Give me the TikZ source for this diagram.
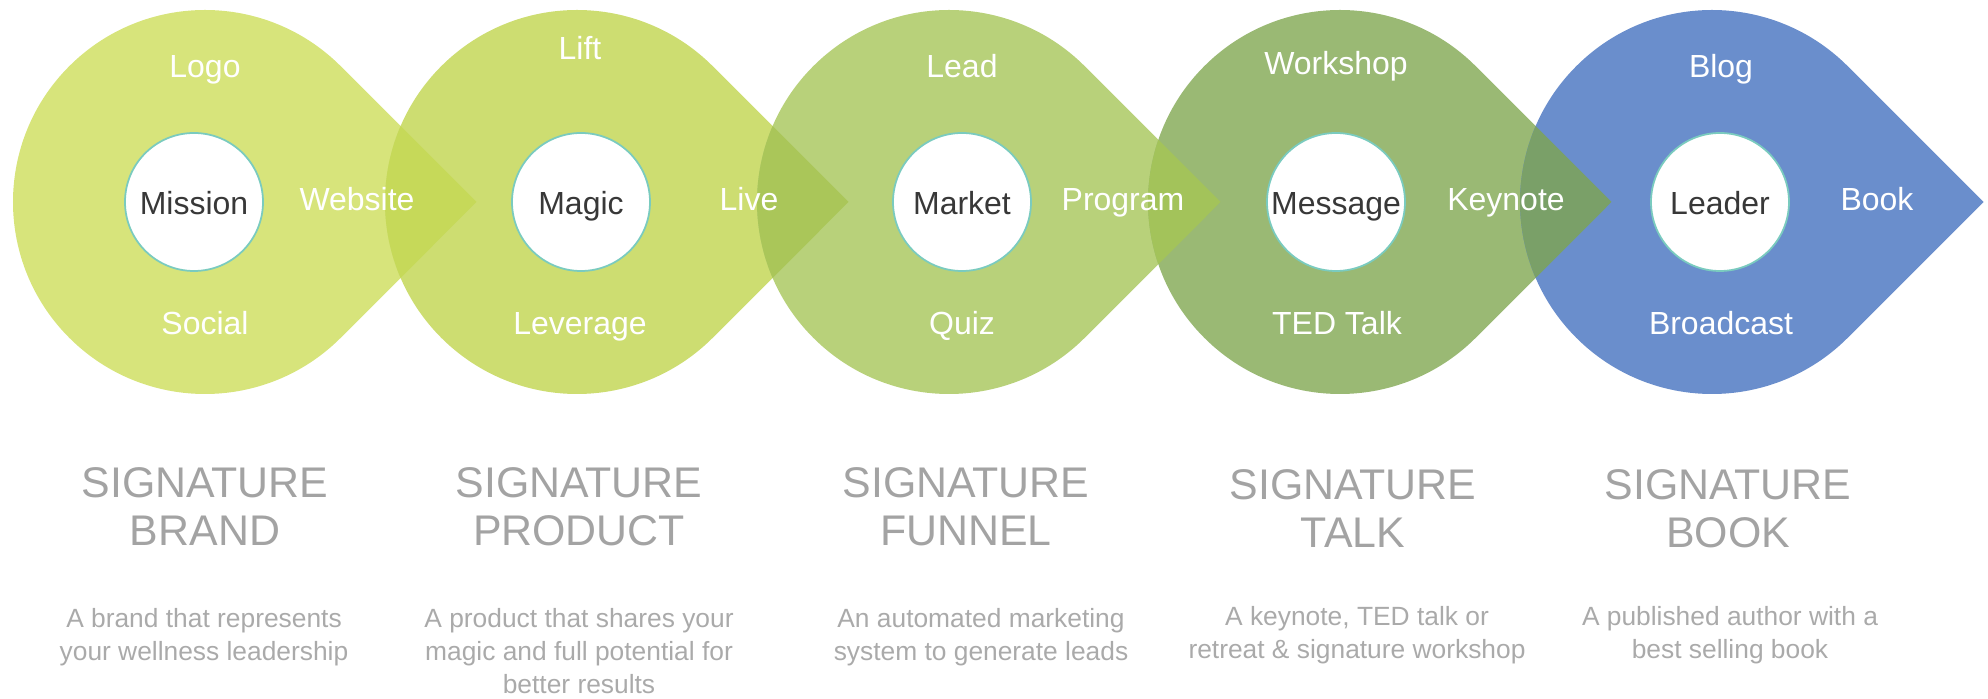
\documentclass[tikz,border=0pt]{standalone}
\usepackage{fontspec}
\setmainfont{Liberation Sans}
\definecolor{dropA}{HTML}{D7E47B}
\definecolor{dropB}{HTML}{CDDD71}
\definecolor{dropC}{HTML}{B8D17A}
\definecolor{dropD}{HTML}{9AB974}
\definecolor{dropE}{HTML}{6A8ECC}
\definecolor{ovA}{HTML}{C6D959}
\definecolor{ovB}{HTML}{AAC659}
\definecolor{ovC}{HTML}{A3C35A}
\definecolor{ovD}{HTML}{7AA068}
\definecolor{rim}{HTML}{7ACBBF}
\definecolor{headgray}{HTML}{A3A3A3}
\definecolor{descgray}{HTML}{AAAAAA}

\begin{document}
\begin{tikzpicture}[
    drop/.style={insert path={({#1+2.715},4.97) -- ({#1+1.3576},6.3276) arc[start angle=45, end angle=315, radius=1.92] -- cycle}},
    hub/.style={circle, fill=white, draw=rim, line width=0.5pt, minimum size=1.38cm, inner sep=0pt,
        text=black!78, font=\fontsize{9.1}{11}\selectfont, text height=0.716em, text depth=0pt},
    lbl/.style={anchor=base, inner sep=0pt, text=white, font=\fontsize{9.1}{11}\selectfont},
    head/.style={anchor=north, inner sep=0pt, align=center, text=headgray, font=\fontsize{12.2}{13.7}\selectfont},
    desc/.style={anchor=north, inner sep=0pt, align=center, text=descgray, font=\fontsize{7.5}{9.4}\selectfont}]
    \useasboundingbox (0,0) rectangle (19.88,6.99);
    % the five drops, then the darker overlaps
    \foreach \cx/\col in {2.05/dropA, 5.77/dropB, 9.49/dropC, 13.40/dropD, 17.12/dropE}
        \fill[\col, drop=\cx];
    \foreach \a/\b/\col in {2.05/5.77/ovA, 5.77/9.49/ovB, 9.49/13.40/ovC, 13.40/17.12/ovD} {
        \begin{scope}
            \clip[drop=\a];
            \fill[\col, drop=\b];
        \end{scope}
    }
    % hubs
    \node[hub] (mission) at (1.94,4.97) {Mission};
    \node[hub] (magic) at (5.81,4.97) {Magic};
    \node[hub] (market) at (9.62,4.97) {Market};
    \node[hub] (message) at (13.36,4.97) {Message};
    \node[hub] (leader) at (17.20,4.97) {Leader};
    % labels round each hub
    \node[lbl] (logo) at (2.05,6.21) {Logo};
    \node[lbl] (website) at (3.57,4.88) {Website};
    \node[lbl] (social) at (2.05,3.64) {Social};
    \node[lbl] (lift) at (5.80,6.39) {Lift};
    \node[lbl] (live) at (7.49,4.88) {Live};
    \node[lbl] (leverage) at (5.80,3.64) {Leverage};
    \node[lbl] (lead) at (9.62,6.21) {Lead};
    \node[lbl] (program) at (11.23,4.88) {Program};
    \node[lbl] (quiz) at (9.62,3.64) {Quiz};
    \node[lbl] (workshop) at (13.36,6.24) {Workshop};
    \node[lbl] (keynote) at (15.06,4.88) {Keynote};
    \node[lbl] (tedtalk) at (13.37,3.64) {TED Talk};
    \node[lbl] (blog) at (17.21,6.21) {Blog};
    \node[lbl] (book) at (18.77,4.88) {Book};
    \node[lbl] (broadcast) at (17.21,3.64) {Broadcast};
    % headings and notes
    \node[head] (hbrand) at (2.05,2.32) {SIGNATURE\\BRAND};
    \node[head] (hproduct) at (5.79,2.32) {SIGNATURE\\PRODUCT};
    \node[head] (hfunnel) at (9.66,2.32) {SIGNATURE\\FUNNEL};
    \node[head] (htalk) at (13.53,2.30) {SIGNATURE\\TALK};
    \node[head] (hbook) at (17.28,2.30) {SIGNATURE\\BOOK};
    \node[desc] (dbrand) at (2.04,0.91) {A brand that represents\\your wellness leadership};
    \node[desc] (dproduct) at (5.79,0.91) {A product that shares your\\magic and full potential for\\better results};
    \node[desc] (dfunnel) at (9.81,0.91) {An automated marketing\\system to generate leads};
    \node[desc] (dtalk) at (13.57,0.93) {A keynote, TED talk or\\retreat \& signature workshop};
    \node[desc] (dbook) at (17.30,0.93) {A published author with a\\best selling book};
\end{tikzpicture}
\end{document}
